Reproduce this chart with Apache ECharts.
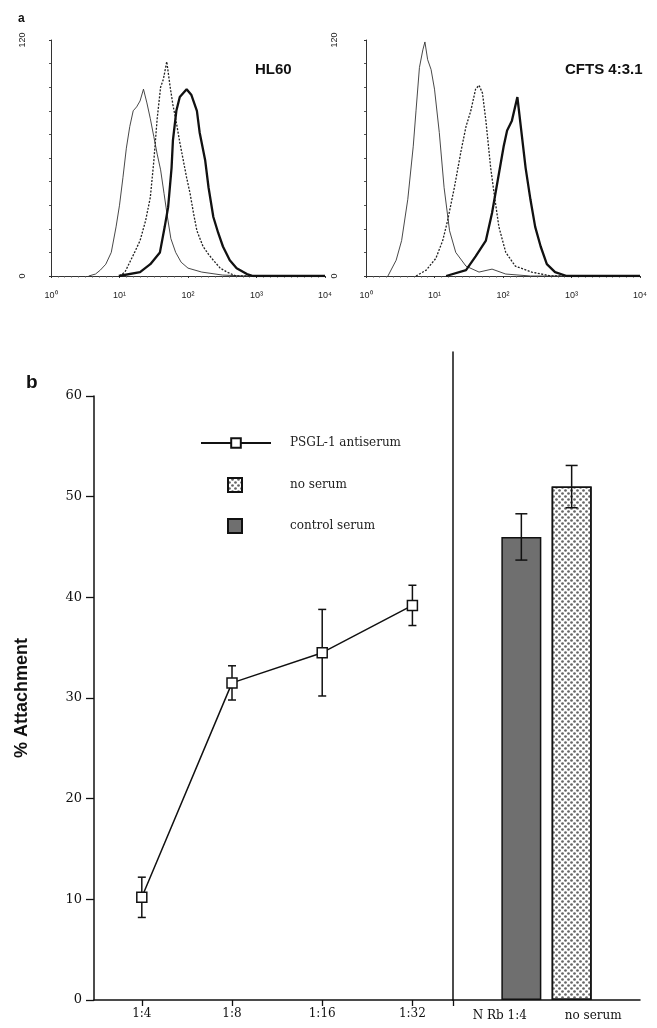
<!DOCTYPE html>
<html>
<head>
<meta charset="utf-8">
<script src="https://cdn.jsdelivr.net/npm/echarts@6/dist/echarts.min.js"></script>
<style>
html,body{margin:0;padding:0;background:#fff}
#main{width:657px;height:1028px}
</style>
</head>
<body>
<div id="main"></div>
<script>
// panel a : flow histograms, x = log10 fluorescence (decades), y = cell count
const hl60Control = [[0.55,0],[0.65,1],[0.72,3],[0.8,6],[0.88,12],[0.95,25],[1.0,36],[1.05,50],[1.1,65],[1.15,76],[1.2,84],[1.25,86],[1.3,89],[1.35,95],[1.4,88],[1.45,80],[1.5,71],[1.55,62],[1.6,54],[1.65,42],[1.7,30],[1.75,19],[1.82,12],[1.9,7],[2.0,4],[2.2,2],[2.5,0.5],[2.8,0],[4,0]]
const hl60Dotted = [[1.0,0],[1.08,2],[1.15,7],[1.22,12],[1.3,18],[1.38,28],[1.45,40],[1.5,58],[1.55,80],[1.6,96],[1.64,100],[1.69,109],[1.74,96],[1.78,87],[1.83,78],[1.88,68],[1.93,59],[1.98,50],[2.03,42],[2.08,32],[2.13,23],[2.22,15],[2.3,11],[2.37,8],[2.47,4],[2.57,2],[2.7,0],[4,0]]
const hl60Psgl = [[0.99,0],[1.3,2],[1.45,6],[1.59,12],[1.66,25],[1.71,35],[1.76,55],[1.78,69],[1.83,84],[1.88,91],[1.98,95],[2.05,92],[2.13,84],[2.17,73],[2.25,59],[2.3,45],[2.37,30],[2.44,22],[2.51,15],[2.61,8],[2.71,4],[2.86,1],[2.95,0],[4,0]]
const cftsControl = [[0.32,0],[0.44,8],[0.52,18],[0.61,39],[0.69,66],[0.73,84],[0.78,106],[0.83,115],[0.86,119],[0.9,110],[0.95,105],[1.0,95],[1.07,73],[1.14,45],[1.22,23],[1.31,12],[1.46,5],[1.65,2],[1.84,3.5],[2.04,1],[2.4,0],[4,0]]
const cftsDotted = [[0.73,0],[0.88,3],[1.02,9],[1.12,18],[1.19,28],[1.29,45],[1.39,64],[1.46,76],[1.53,84],[1.6,95],[1.65,97],[1.7,93],[1.75,79],[1.82,55],[1.87,42],[1.94,25],[2.04,12],[2.18,5],[2.42,2],[2.7,0],[4,0]]
const cftsPsgl = [[1.17,0],[1.46,3],[1.6,10],[1.75,18],[1.84,32],[1.94,52],[2.01,66],[2.06,74],[2.13,79],[2.21,91],[2.26,76],[2.33,55],[2.4,39],[2.47,25],[2.55,15],[2.64,6],[2.76,2],[2.93,0],[4,0]]
const decadeLabels = ['10⁰', '10¹', '10²', '10³', '10⁴']

// panel b : % attachment
const dilutions = ['1:4', '1:8', '1:16', '1:32']
const antiserumMean = [10.2, 31.5, 34.5, 39.2]
const antiserumErr = [2.0, 1.7, 4.3, 2.0]
const controlCats = ['N Rb 1:4', 'no serum']
const controlMean = [46.0, 51.0]
const controlErr = [2.3, 2.1]

const serif = 'DejaVu Serif'
const sans = 'Liberation Sans'

function histX(grid) {
  return {
    type: 'value', gridIndex: grid, min: 0, max: 4, interval: 1,
    axisLine: {lineStyle: {color: '#333', width: 1}},
    axisTick: {length: 2, lineStyle: {color: '#333'}},
    minorTick: {show: true, splitNumber: 10, length: 1.5, lineStyle: {color: '#555'}},
    splitLine: {show: false},
    axisLabel: {margin: 15, fontSize: 9, fontFamily: sans, color: '#222', formatter: v => decadeLabels[v]}
  }
}
function histY(grid, margin) {
  return {
    type: 'value', gridIndex: grid, min: 0, max: 120, interval: 120,
    axisLine: {show: true, lineStyle: {color: '#333', width: 1}},
    axisTick: {show: true, length: 2, lineStyle: {color: '#333'}},
    minorTick: {show: true, splitNumber: 10, length: 2, lineStyle: {color: '#555'}},
    splitLine: {show: false},
    axisLabel: {rotate: 90, margin: margin, fontSize: 9, fontFamily: sans, color: '#222'}
  }
}
function histLine(data, grid, kind) {
  const styles = {
    control: {color: '#333', width: 0.9, type: 'solid'},
    dotted: {color: '#222', width: 1.3, type: [2, 1.5]},
    psgl: {color: '#111', width: 2.3, type: 'solid'}
  }
  return {
    type: 'line', xAxisIndex: grid, yAxisIndex: grid, data: data,
    showSymbol: false, symbol: 'none', lineStyle: styles[kind], silent: true
  }
}

// error bar with T caps
function errorBars(capHalf, slotOf) {
  return function (params, api) {
    const x = api.value(0)
    let top = api.coord([x, api.value(2)])
    let bot = api.coord([x, api.value(1)])
    let dx = 0
    if (slotOf) {
      const lay = api.barLayout({count: 2, barWidth: 40, barGap: '8%'})
      dx = lay[slotOf(params.dataIndex)].offsetCenter
    }
    const cx = top[0] + dx
    const st = {stroke: '#111', lineWidth: 1.5}
    return {
      type: 'group',
      children: [
        {type: 'line', shape: {x1: cx, y1: top[1], x2: cx, y2: bot[1]}, style: st},
        {type: 'line', shape: {x1: cx - capHalf, y1: top[1], x2: cx + capHalf, y2: top[1]}, style: st},
        {type: 'line', shape: {x1: cx - capHalf, y1: bot[1], x2: cx + capHalf, y2: bot[1]}, style: st}
      ]
    }
  }
}

const chart = echarts.init(document.getElementById('main'))
const option = {
  animation: false,
  backgroundColor: '#fff',
  title: [
    {text: 'a', left: 13, top: 8, textStyle: {fontFamily: sans, fontWeight: 'bold', fontSize: 12, color: '#111'}},
    {text: 'HL60', left: 250, top: 57, textStyle: {fontFamily: sans, fontWeight: 'bold', fontSize: 15, color: '#111'}},
    {text: 'CFTS 4:3.1', left: 560, top: 57, textStyle: {fontFamily: sans, fontWeight: 'bold', fontSize: 15, color: '#111'}},
    {text: 'b', left: 21, top: 368, textStyle: {fontFamily: sans, fontWeight: 'bold', fontSize: 19, color: '#111'}}
  ],
  grid: [
    {left: 51, top: 40, width: 274, height: 236},
    {left: 366, top: 40, width: 274, height: 236},
    {left: 94, top: 396, width: 359, height: 604},
    {left: 453, top: 352, width: 187, height: 648}
  ],
  legend: [
    {data: ['PSGL-1 antiserum'], left: 195, top: 432, itemWidth: 70, itemHeight: 12,
      textStyle: {fontFamily: serif, fontSize: 12, color: '#222', padding: [0, 0, 0, 14]}},
    {data: ['no serum'], icon: 'rect', left: 222, top: 472, itemWidth: 14, itemHeight: 14,
      textStyle: {fontFamily: serif, fontSize: 12, color: '#222', padding: [0, 0, 0, 43]}},
    {data: ['control serum'], icon: 'rect', left: 222, top: 513, itemWidth: 14, itemHeight: 14,
      textStyle: {fontFamily: serif, fontSize: 12, color: '#222', padding: [0, 0, 0, 43]}}
  ],
  xAxis: [
    histX(0),
    histX(1),
    {
      type: 'value', gridIndex: 2, min: -0.53, max: 3.45,
      axisLine: {onZero: false, lineStyle: {color: '#111', width: 1.5}},
      axisTick: {customValues: [0, 1, 2, 3, 3.45], length: 6, lineStyle: {color: '#111', width: 1.3}},
      axisLabel: {customValues: [0, 1, 2, 3], margin: 8, fontSize: 12, fontFamily: serif, color: '#111',
        formatter: v => dilutions[Math.round(v)]},
      splitLine: {show: false}
    },
    {
      type: 'category', gridIndex: 3, data: controlCats,
      axisLine: {onZero: false, lineStyle: {color: '#111', width: 1.5}},
      axisTick: {show: false},
      axisLabel: {margin: 10, fontSize: 12, fontFamily: serif, color: '#111'}
    }
  ],
  yAxis: [
    histY(0, 24),
    histY(1, 27),
    {
      type: 'value', gridIndex: 2, min: 0, max: 60, interval: 10,
      name: '% Attachment', nameLocation: 'middle', nameRotate: 90, nameGap: 63,
      nameTextStyle: {fontFamily: sans, fontWeight: 'bold', fontSize: 18, color: '#111'},
      axisLine: {show: true, onZero: false, lineStyle: {color: '#111', width: 1.5}},
      axisTick: {show: true, length: 8, lineStyle: {color: '#111', width: 1.3}},
      axisLabel: {margin: 12, fontSize: 13, fontFamily: serif, color: '#111'},
      splitLine: {show: false}
    },
    {
      type: 'value', gridIndex: 3, min: 0, max: 60 * 648 / 604,
      axisLine: {show: true, onZero: false, lineStyle: {color: '#111', width: 1.5}},
      axisTick: {show: false}, axisLabel: {show: false}, splitLine: {show: false}
    }
  ],
  series: [
    histLine(hl60Control, 0, 'control'),
    histLine(hl60Dotted, 0, 'dotted'),
    histLine(hl60Psgl, 0, 'psgl'),
    histLine(cftsControl, 1, 'control'),
    histLine(cftsDotted, 1, 'dotted'),
    histLine(cftsPsgl, 1, 'psgl'),
    {
      type: 'custom', xAxisIndex: 2, yAxisIndex: 2, z: 2, silent: true,
      encode: {x: 0, y: [1, 2]},
      data: antiserumMean.map((m, i) => [i, m - antiserumErr[i], m + antiserumErr[i]]),
      renderItem: errorBars(4)
    },
    {
      name: 'PSGL-1 antiserum', type: 'line', xAxisIndex: 2, yAxisIndex: 2, z: 3,
      data: antiserumMean.map((m, i) => [i, m]),
      symbol: 'rect', symbolSize: 10, showSymbol: true,
      lineStyle: {color: '#111', width: 1.5},
      itemStyle: {color: '#fff', borderColor: '#111', borderWidth: 1.5}
    },
    {
      name: 'no serum', type: 'bar', xAxisIndex: 3, yAxisIndex: 3, z: 2,
      data: ['-', controlMean[1]], barWidth: 40, barGap: '8%',
      itemStyle: {
        color: '#fff', borderColor: '#111', borderWidth: 1.5,
        decal: {symbol: 'circle', symbolSize: 0.9, color: '#666', dashArrayX: [[2.5, 2.5], [0, 2.5, 2.5, 0]], dashArrayY: [2.5, 0]}
      }
    },
    {
      name: 'control serum', type: 'bar', xAxisIndex: 3, yAxisIndex: 3, z: 2,
      data: [controlMean[0], '-'], barWidth: 40, barGap: '8%',
      itemStyle: {color: '#6f6f6f', borderColor: '#111', borderWidth: 1.5}
    },
    {
      type: 'custom', xAxisIndex: 3, yAxisIndex: 3, z: 5, silent: true,
      encode: {x: 0, y: [1, 2]},
      data: controlMean.map((m, i) => [i, m - controlErr[i], m + controlErr[i]]),
      renderItem: errorBars(6, i => (i === 0 ? 1 : 0))
    }
  ]
}
chart.setOption(option)
</script>
</body>
</html>
